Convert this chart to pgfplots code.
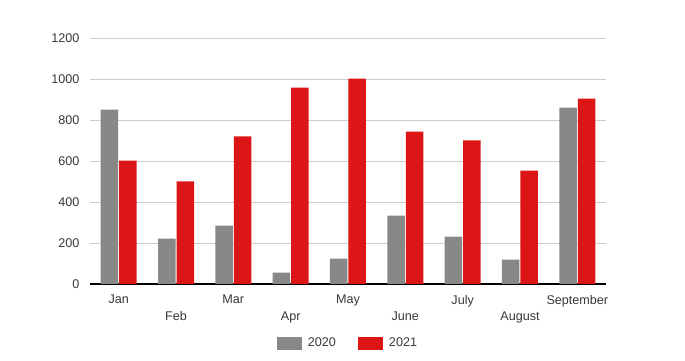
\documentclass[border=0pt]{standalone}
\usepackage{pgfplots}
\pgfplotsset{compat=1.18}
\usepackage{fontspec}
\setmainfont{Liberation Sans}
\definecolor{gbar}{RGB}{136,136,136}
\definecolor{rbar}{RGB}{220,22,22}
\definecolor{txt}{RGB}{55,55,55}
\definecolor{gridc}{RGB}{204,204,204}
\begin{document}
\begin{tikzpicture}[x=1pt,y=1pt]
\useasboundingbox (0,0) rectangle (685,361);
\begin{axis}[
  at={(90pt,77pt)}, anchor=south west,
  scale only axis, width=516pt, height=246pt,
  ybar=1pt, bar width=17.5pt,
  xmin=-0.5, xmax=8.5, ymin=0, ymax=1200,
  ytick={0,200,...,1200},
  xtick={0,2,4,6,8},
  xticklabels={Jan,Mar,May,July,September},
  extra x ticks={1,3,5,7},
  extra x tick labels={Feb,Apr,June,August},
  extra x tick style={grid=none, tick label style={yshift=-16.7pt}},
  ymajorgrids, grid style={gridc, line width=0.8pt},
  axis y line*=none, axis x line*=bottom,
  axis line style={black, line width=1.2pt},
  y axis line style={draw=none},
  major tick length=0pt,
  every tick/.style={draw=none},
  tick label style={font=\fontsize{12.6}{14}\selectfont, text=txt},
  yticklabel style={xshift=-7pt},
  xticklabel style={yshift=-7.5pt},
  /pgf/number format/assume math mode=true,
  /pgf/number format/1000 sep={},
  legend columns=2,
  legend style={at={(0.5,-0.24)}, anchor=center, draw=none, fill=none,
    font=\fontsize{12.6}{14}\selectfont, text=txt,
    /tikz/every odd column/.append style={column sep=4pt},
    /tikz/every even column/.append style={column sep=20pt}},
  legend image code/.code={\fill[#1] (0pt,-6.5pt) rectangle (25pt,6.5pt);},
]
\addplot[fill=gbar, draw=none] coordinates {(0,850) (1,221) (2,285) (3,55) (4,124) (5,333) (6,231) (7,119) (8,860)};
\addplot[fill=rbar, draw=none] coordinates {(0,602) (1,500) (2,720) (3,958) (4,1002) (5,743) (6,700) (7,553) (8,904)};
\legend{2020,2021}
\end{axis}
\end{tikzpicture}
\end{document}
